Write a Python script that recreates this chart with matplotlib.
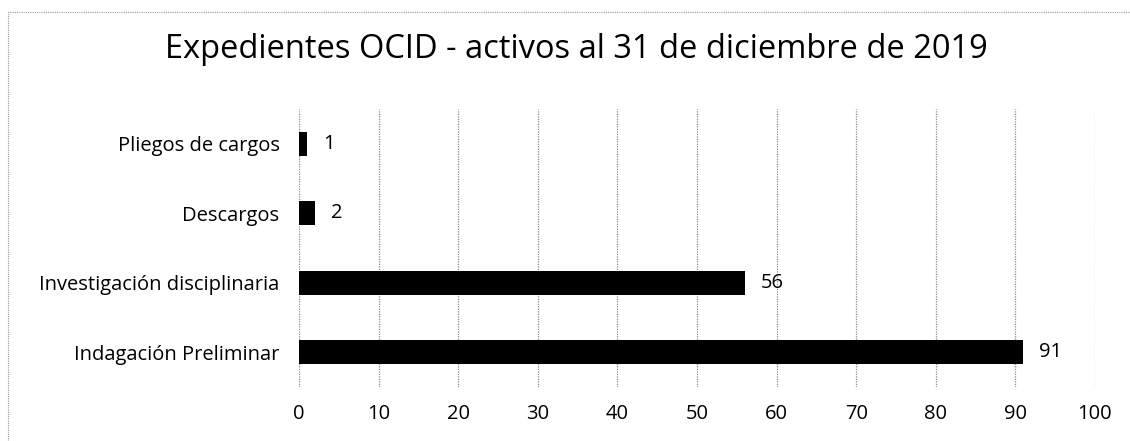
import matplotlib.pyplot as plt
from matplotlib.patches import Rectangle

categories = ['Indagación Preliminar', 'Investigación disciplinaria', 'Descargos', 'Pliegos de cargos']
counts = [91, 56, 2, 1]
x_ticks = [0, 10, 20, 30, 40, 50, 60, 70, 80, 90, 100]

plt.rcParams['font.family'] = ['Open Sans', 'DejaVu Sans']

fig = plt.figure(figsize=(11.3, 4.41), dpi=100)
ax = fig.add_axes([0.2646, 0.1224, 0.7044, 0.6306])

ypos = range(len(categories))
ax.barh(ypos, counts, height=0.35, color='black', zorder=3)
for y, v in zip(ypos, counts):
    ax.text(v + 2, y, str(v), va='center', ha='left', fontsize=14.5)

ax.set_xlim(0, 100)
ax.set_ylim(-0.5, len(categories) - 0.5)
ax.set_xticks(x_ticks)
ax.set_yticks(list(ypos))
ax.set_yticklabels(categories, fontsize=14.5)
ax.tick_params(axis='x', labelsize=14.5, length=0, pad=12)
ax.tick_params(axis='y', length=0, pad=14)
ax.grid(axis='x', color='#8a8a8a', linewidth=0.9, linestyle=(0, (1, 1)), zorder=0)
for s in ax.spines.values():
    s.set_visible(False)

fig.suptitle('Expedientes OCID - activos al 31 de diciembre de 2019', x=0.51, y=0.925, fontsize=23.5)

# dotted frame around the chart area
fig.patches.append(Rectangle((0.007, -0.02), 1.1, 0.993, transform=fig.transFigure,
                             fill=False, edgecolor='#9a9a9a', linewidth=0.8,
                             linestyle=(0, (1, 1))))

fig.savefig('out.png', dpi=100)
